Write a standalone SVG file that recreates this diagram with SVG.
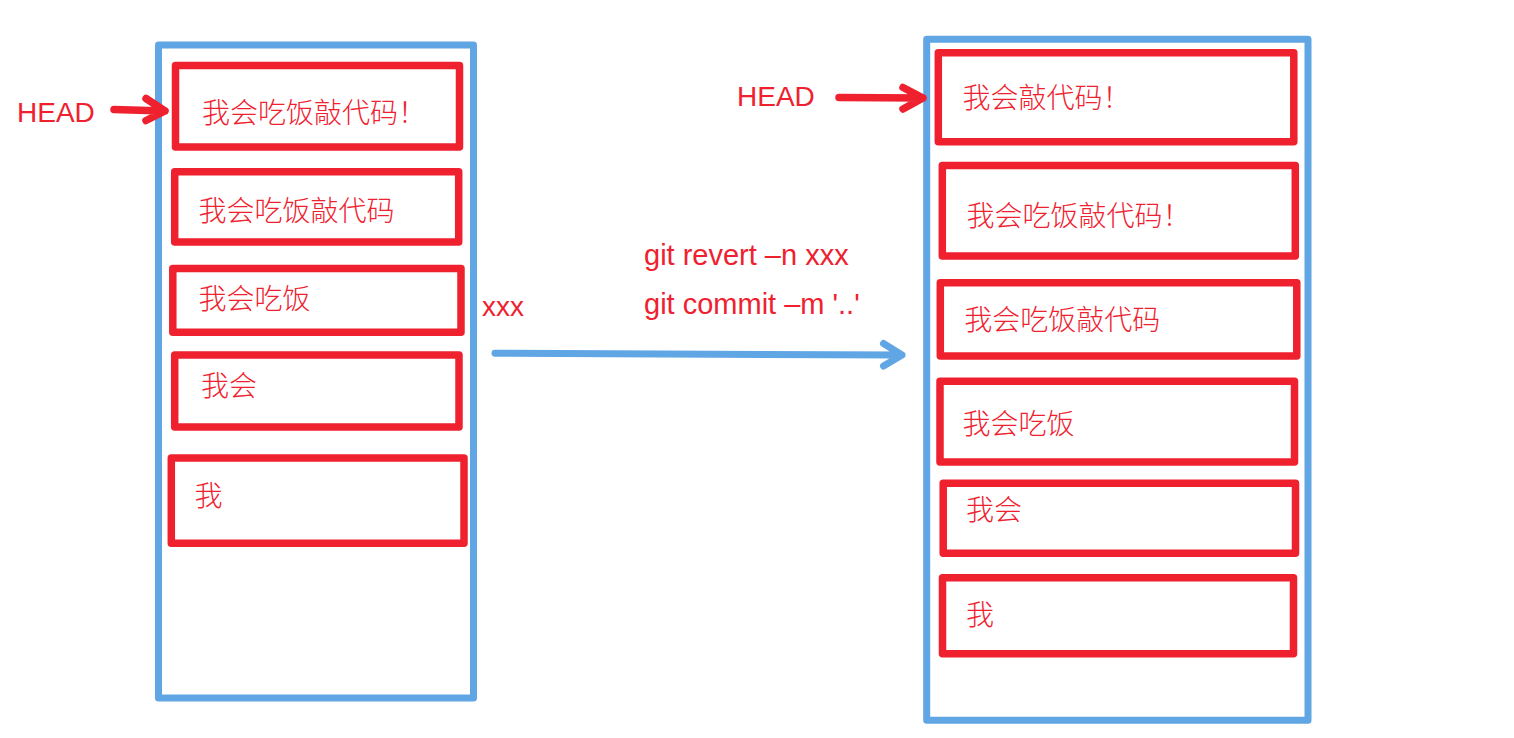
<svg xmlns="http://www.w3.org/2000/svg" width="1514" height="738" viewBox="0 0 1514 738">
<style>
.bg{fill:#ffffff}
.stack{fill:none;stroke:#60A5E4;stroke-width:7;stroke-linejoin:round}
.commit{fill:none;stroke:#EF212F;stroke-width:7.5;stroke-linejoin:round}
.cjk{font-family:"Noto Sans CJK SC","Noto Sans",sans-serif;font-size:28px;font-weight:300;fill:#EF212F}
.lbl{font-family:"Liberation Sans",Arial,sans-serif;font-size:28px;fill:#EF212F}
.cmd{font-family:"Liberation Sans",Arial,sans-serif;font-size:29px;fill:#EF212F}
.red-arrow{fill:none;stroke:#EF212F;stroke-width:7.5;stroke-linecap:round;stroke-linejoin:round}
.blue-arrow{fill:none;stroke:#60A5E4;stroke-width:7;stroke-linecap:round;stroke-linejoin:round}
</style>
<rect class="bg" x="0" y="0" width="1514" height="738"/>

<g id="left-stack">
  <rect class="stack" x="158.5" y="45" width="315" height="653"/>
</g>
<g id="left-commit-1">
  <rect class="commit" x="175.5" y="65.5" width="284" height="81.5"/>
  <text class="cjk" x="202" y="123">我会吃饭敲代码！</text>
</g>
<g id="left-commit-2">
  <rect class="commit" x="174.7" y="171.7" width="284" height="70.3"/>
  <text class="cjk" x="198.5" y="221">我会吃饭敲代码</text>
</g>
<g id="left-commit-3">
  <rect class="commit" x="172.8" y="268.5" width="288.2" height="63.8"/>
  <text class="cjk" x="198.5" y="309">我会吃饭</text>
</g>
<g id="left-commit-4">
  <rect class="commit" x="174.7" y="355" width="284.3" height="72"/>
  <text class="cjk" x="201" y="396">我会</text>
</g>
<g id="left-commit-5">
  <rect class="commit" x="171.3" y="458" width="292.7" height="85.3"/>
  <text class="cjk" x="194.5" y="506">我</text>
</g>
<g id="left-head">
  <text class="lbl" x="17" y="121.5">HEAD</text>
</g>
<g id="xxx-label">
  <text class="lbl" x="482" y="316">xxx</text>
</g>
<g id="command-label">
  <text class="cmd" x="644" y="265">git revert –n xxx</text>
  <text class="cmd" x="644" y="313.5">git commit –m '..'</text>
</g>

<g id="right-stack">
  <rect class="stack" x="926.7" y="39.3" width="381.3" height="681"/>
</g>
<g id="right-commit-1">
  <rect class="commit" x="938.3" y="52.7" width="355.5" height="89"/>
  <text class="cjk" x="962.5" y="108">我会敲代码！</text>
</g>
<g id="right-commit-2">
  <rect class="commit" x="942.3" y="165.5" width="353" height="90.5"/>
  <text class="cjk" x="966.5" y="226">我会吃饭敲代码！</text>
</g>
<g id="right-commit-3">
  <rect class="commit" x="940.3" y="282.7" width="356.5" height="73.3"/>
  <text class="cjk" x="964.3" y="330">我会吃饭敲代码</text>
</g>
<g id="right-commit-4">
  <rect class="commit" x="940" y="381.2" width="354.5" height="80.8"/>
  <text class="cjk" x="962.5" y="434">我会吃饭</text>
</g>
<g id="right-commit-5">
  <rect class="commit" x="943.2" y="483.3" width="352.3" height="70"/>
  <text class="cjk" x="966" y="520">我会</text>
</g>
<g id="right-commit-6">
  <rect class="commit" x="942.5" y="577.7" width="351" height="76"/>
  <text class="cjk" x="966" y="625">我</text>
</g>
<g id="right-head">
  <text class="lbl" x="737" y="105.7">HEAD</text>
</g>

<g id="connectors">
  <path class="red-arrow" d="M114 109.5 L165 111 M146 98.5 L165 111 L146 120.5"/>
  <path class="red-arrow" d="M839 97.5 L923 98 M903 87.5 L923 98 L903 109"/>
  <path class="blue-arrow" d="M495 353.3 L902 355 M883.5 343.5 L902 355 L883.5 366"/>
</g>
</svg>
